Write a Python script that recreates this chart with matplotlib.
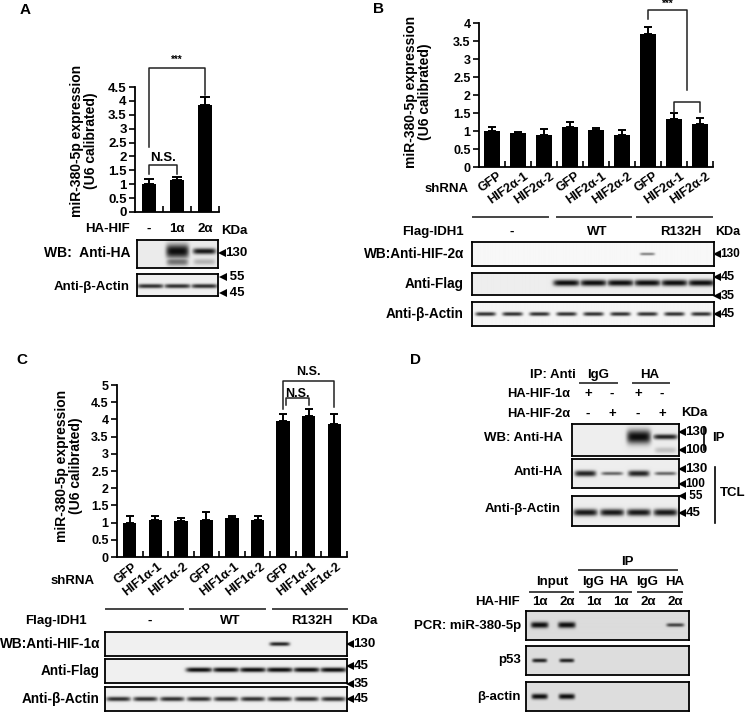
import numpy as np
import matplotlib
matplotlib.use('Agg')
import matplotlib.pyplot as plt
from matplotlib import transforms

plt.rcParams['font.family'] = ['Liberation Sans', 'DejaVu Sans']
plt.rcParams['font.weight'] = 'bold'

# ---- data ----
a_lanes = ['-', '1α', '2α']
a_vals = [1.0, 1.15, 3.85]
a_err = [0.2, 0.1, 0.3]

b_shrna = ['GFP', 'HIF2α-1', 'HIF2α-2'] * 3
b_vals = [1.0, 0.95, 0.9, 1.12, 1.02, 0.9, 3.7, 1.33, 1.2]
b_err = [0.12, 0.02, 0.15, 0.12, 0.07, 0.12, 0.18, 0.18, 0.15]

c_shrna = ['GFP', 'HIF1α-1', 'HIF1α-2'] * 3
c_vals = [1.0, 1.08, 1.05, 1.08, 1.12, 1.08, 3.95, 4.1, 3.87]
c_err = [0.2, 0.12, 0.07, 0.22, 0.08, 0.12, 0.2, 0.2, 0.28]

idh1 = ['-', 'WT', 'R132H']
d_ip = ['IgG', 'HA']
d_hif1 = ['+', '-', '+', '-']
d_hif2 = ['-', '+', '-', '+']
pcr_groups = ['Input', 'IgG', 'HA', 'IgG', 'HA']
pcr_lanes = ['1α', '2α', '1α', '1α', '2α', '2α']

# band intensities per lane (0 = no band)
a_ha = [0.0, 1.0, 0.95]
a_actin = [0.85, 0.85, 0.85]
b_hif2 = [0, 0, 0, 0, 0, 0, 0.5, 0, 0]
b_flag = [0, 0, 0, 1, 1, 1, 1, 1, 1]
b_actin = [0.85] * 9
c_hif1 = [0, 0, 0, 0, 0, 0, 0.9, 0, 0]
c_flag = [0, 0, 0, 1, 1, 1, 1, 1, 1]
c_actin = [0.85] * 9
d_wb_ip = [0, 0, 1.0, 0.9]
d_wb_tcl = [0.9, 0.6, 0.9, 0.6]
d_actin = [0.95] * 4
p_mir = [1, 1, 0, 0, 0, 0.75]
p_p53 = [0.9, 0.9, 0, 0, 0, 0]
p_actin = [1, 1, 0, 0, 0, 0]

W, H = 745, 712
fig = plt.figure(figsize=(W / 100, H / 100), dpi=100)
fig.patch.set_facecolor('white')

ov = fig.add_axes([0, 0, 1, 1])
ov.set_xlim(0, W)
ov.set_ylim(H, 0)
ov.axis('off')

FS = 9.5  # label size for blot rows


def px_axes(x0, y0, x1, y1):
    return fig.add_axes([x0 / W, 1 - y1 / H, (x1 - x0) / W, (y1 - y0) / H])


def t(x, y, s, ha='center', size=FS, **kw):
    ov.text(x, y, s, ha=ha, va='center', fontsize=size, fontweight='bold', **kw)


def kda(x, y, s, size=9):
    # small left-pointing arrowhead followed by marker size
    ov.plot(x + 3.5, y, marker='<', ms=6, color='black', mew=0)
    t(x + 7.5, y, s, ha='left', size=size)


def hline(x0, x1, y, lw=1.4):
    ov.plot([x0, x1], [y, y], color='#444444', lw=lw)


def vline(x, y0, y1, lw=1.2):
    ov.plot([x, x], [y0, y1], color='black', lw=lw)


def blot(box, bands, bg=0.93):
    x0, y0, x1, y1 = box
    ax = px_axes(x0, y0, x1, y1)
    n = len(bands[0][0])
    hh = y1 - y0
    xx = np.linspace(0, n, int((x1 - x0) * 4))
    yy = np.linspace(0, hh, int(hh * 4))
    X, Y = np.meshgrid(xx, yy)
    dark = np.zeros_like(X)
    for levels, yf, thick, fill in bands:
        thick = np.broadcast_to(thick, (n,))
        for i, lv in enumerate(levels):
            if lv <= 0:
                continue
            gx = np.exp(-np.abs((X - (i + 0.5)) / (fill / 2)) ** 6)
            gy = np.exp(-np.abs((Y - yf * hh) / thick[i]) ** 2.2)
            dark = np.maximum(dark, lv * gx * gy)
    img = bg - (bg - 0.05) * dark
    ax.imshow(img, cmap='gray', vmin=0, vmax=1, aspect='auto',
              extent=(0, n, hh, 0), interpolation='bilinear')
    ax.set_xticks([])
    ax.set_yticks([])
    for s in ax.spines.values():
        s.set_linewidth(1.3)
    return ax


def bar_panel(box, vals, err, ymax, width, fs, cap):
    x0, ytop, x1, ybot = box
    ax = px_axes(x0, ytop, x1, ybot)
    n = len(vals)
    x = np.arange(n)
    ax.bar(x, vals, width=width, color='black')
    ax.errorbar(x, vals, yerr=[np.zeros(n), err], fmt='none', ecolor='black',
                elinewidth=1.4, capsize=cap, capthick=1.4)
    ax.set_xlim(-0.5, n - 0.5)
    ax.set_ylim(0, ymax)
    ticks = np.arange(0, ymax + 0.01, 0.5)
    ax.set_yticks(ticks)
    ax.set_yticklabels([f'{v:g}' for v in ticks], fontsize=fs, fontweight='bold')
    ax.set_xticks(np.arange(1, n + 1) - 0.5)
    ax.set_xticklabels([])
    ax.tick_params(axis='x', direction='in', length=4, width=1.2)
    ax.tick_params(axis='y', direction='out', length=4, width=1.2, pad=2)
    for s in ['top', 'right']:
        ax.spines[s].set_visible(False)
    for s in ['left', 'bottom']:
        ax.spines[s].set_linewidth(1.3)
    ax.patch.set_alpha(0)
    return ax


def bracket(ax, xa, xb, ytop, ya, yb, lw=1.1):
    ax.plot([xa, xa, xb, xb], [ya, ytop, ytop, yb], color='#222222', lw=lw, clip_on=False)


ylab = 'miR-380-5p expression\n(U6 calibrated)'

# ---------------- Panel A ----------------
t(20, 10, 'A', ha='left', size=11)
axA = bar_panel((135, 87, 219, 212), a_vals, a_err, 4.5, 0.47, 9.5, 3.5)
t(84, 141, ylab, size=10, rotation=90, linespacing=1.0)
bracket(axA, 0, 2, 5.2, 2.35, 4.2)
axA.text(1, 5.3, '***', ha='center', va='bottom', fontsize=7, clip_on=False)
bracket(axA, 0, 1, 1.68, 1.35, 1.35)
axA.text(0.5, 1.72, 'N.S.', ha='center', va='bottom', fontsize=9.5, clip_on=False)
trA = transforms.blended_transform_factory(axA.transData, ov.transData)
t(107, 229, 'HA-HIF', size=9.5)
for i, s in enumerate(a_lanes):
    axA.text(i, 229, s, transform=trA, ha='center', va='center', fontsize=9.5)
t(234, 231, 'KDa', size=9.5)
blot((137, 240, 218, 268), [(a_ha, 0.4, [0, 7, 3], 0.85),
                            ([0, 0.55, 0.25], 0.78, [0, 4, 3], 0.8)], bg=0.92)
t(130, 253, 'WB:  Anti-HA', ha='right', size=10)
kda(218, 253, '130', size=9.5)
blot((137, 274, 218, 296), [(a_actin, 0.55, 2.2, 0.98)], bg=0.94)
t(130, 287, 'Anti-β-Actin', ha='right', size=9.5)
kda(219, 277, ' 55', size=9.5)
kda(219, 293, ' 45', size=9.5)

# ---------------- Panel B ----------------
t(373, 9, 'B', ha='left', size=11)
axB = bar_panel((479, 23, 713, 167), b_vals, b_err, 4.0, 0.58, 9, 3)
t(418, 92, ylab, size=10, rotation=90, linespacing=1.0)
bracket(axB, 6, 7.5, 4.36, 4.12, 2.15)
axB.text(6.75, 4.4, '***', ha='center', va='bottom', fontsize=7, clip_on=False)
bracket(axB, 7, 8, 1.81, 1.53, 1.53)
trB = transforms.blended_transform_factory(axB.transData, ov.transData)
for i, s in enumerate(b_shrna):
    axB.text(i + 0.2, 170, s, transform=trB, ha='right', va='top', rotation=35,
             rotation_mode='anchor', fontsize=9)
t(447, 189, 'shRNA', size=9.5)
for xa, xb in [(473, 548), (557, 631), (637, 712)]:
    hline(xa, xb, 217)
t(464, 232, 'Flag-IDH1', ha='right', size=9.5)
for xc, s in zip([512, 597, 681], idh1):
    t(xc, 232, s, size=9.5)
t(728, 232, 'KDa', size=9)
blot((472, 242, 714, 266), [(b_hif2, 0.5, 1.4, 0.55)], bg=0.97)
t(464, 254, 'WB:Anti-HIF-2α', ha='right', size=9.8)
kda(713, 254, '130', size=8.5)
blot((472, 273, 714, 295), [(b_flag, 0.45, 3.2, 0.98)], bg=0.93)
t(464, 284, 'Anti-Flag', ha='right', size=9.8)
kda(713, 277, '45', size=9)
kda(713, 296, '35', size=9)
blot((472, 302, 714, 326), [(b_actin, 0.5, 2.0, 0.75)], bg=0.96)
t(464, 314, 'Anti-β-Actin', ha='right', size=9.8)
kda(713, 314, '45', size=9)

# ---------------- Panel C ----------------
t(16, 360, 'C', ha='left', size=11)
axC = bar_panel((117, 385, 347, 557), c_vals, c_err, 5.0, 0.52, 9, 3)
t(69, 466, ylab, size=10, rotation=90, linespacing=1.0)
bracket(axC, 6, 8, 5.12, 4.3, 4.35)
axC.text(7, 5.2, 'N.S.', ha='center', va='bottom', fontsize=9, clip_on=False)
bracket(axC, 6.1, 7, 4.62, 4.42, 4.42)
axC.text(6.55, 4.55, 'N.S.', ha='center', va='bottom', fontsize=9, clip_on=False)
trC = transforms.blended_transform_factory(axC.transData, ov.transData)
for i, s in enumerate(c_shrna):
    axC.text(i + 0.08, 561, s, transform=trC, ha='right', va='top', rotation=38,
             rotation_mode='anchor', fontsize=9)
t(73, 581, 'shRNA', size=9.5)
for xa, xb in [(106, 183), (190, 265), (273, 347)]:
    hline(xa, xb, 609)
t(87, 621, 'Flag-IDH1', ha='right', size=9.5)
for xc, s in zip([150, 230, 312], idh1):
    t(xc, 621, s, size=9.5)
t(364, 621, 'KDa', size=9.5)
blot((105, 632, 347, 656), [(c_hif1, 0.5, 2.0, 0.75)], bg=0.94)
t(100, 644, 'WB:Anti-HIF-1α', ha='right', size=9.8)
kda(346, 644, '130', size=9.5)
blot((105, 659, 347, 683), [(c_flag, 0.45, 2.4, 0.98)], bg=0.94)
t(100, 671, 'Anti-Flag', ha='right', size=9.8)
kda(346, 666, '45', size=9.5)
kda(346, 684, '35', size=9.5)
blot((105, 687, 347, 711), [(c_actin, 0.5, 2.3, 0.9)], bg=0.94)
t(100, 699, 'Anti-β-Actin', ha='right', size=9.8)
kda(346, 699, '45', size=9.5)

# ---------------- Panel D (upper) ----------------
t(410, 360, 'D', ha='left', size=11)
t(576, 375, 'IP: Anti', ha='right', size=9.5)
for xc, s in zip([598, 650], d_ip):
    t(xc, 375, s, size=9.5)
hline(580, 617, 383)
hline(633, 669, 383)
t(570, 394, 'HA-HIF-1α', ha='right', size=9.3)
t(570, 414, 'HA-HIF-2α', ha='right', size=9.3)
for xc, s1, s2 in zip([588, 612, 638, 662], d_hif1, d_hif2):
    t(xc, 394, s1, size=9.5)
    t(xc, 414, s2, size=9.5)
t(694, 413, 'KDa', size=9.5)
blot((572, 424, 679, 456), [(d_wb_ip, 0.4, [0, 0, 7, 2.6], 0.9),
                            ([0, 0, 0, 0.2], 0.82, 3, 0.8)], bg=0.93)
t(563, 438, 'WB: Anti-HA', ha='right', size=9.5)
kda(678, 432, '130', size=9.5)
kda(678, 450, '100', size=9.5)
vline(704, 427, 450)
t(712, 438, 'IP', ha='left', size=9.5)
blot((572, 459, 679, 488), [(d_wb_tcl, 0.5, [3, 1.8, 3, 1.8], 0.8)], bg=0.93)
t(563, 472, 'Anti-HA', ha='right', size=9.5)
kda(678, 469, '130', size=9.5)
kda(678, 484, '100', size=8.5)
kda(678, 496, ' 55', size=8.5)
blot((572, 496, 679, 526), [(d_actin, 0.55, 3.5, 0.9)], bg=0.93)
t(561, 509, 'Anti-β-Actin', ha='right', size=9.5)
kda(678, 513, '45', size=9.5)
vline(715, 467, 523)
t(720, 493, 'TCL', ha='left', size=9.5)

# ---------------- Panel D (PCR) ----------------
t(627, 562, 'IP', size=9.5)
hline(579, 677, 570)
for xc, s in zip([552, 593, 619, 647, 675], pcr_groups):
    t(xc, 582, s, size=9.5)
for xa, xb in [(530, 573), (580, 631), (638, 682)]:
    hline(xa, xb, 592)
t(520, 602, 'HA-HIF', ha='right', size=9.5)
pcr_box = (526, 689)
lane_w = (pcr_box[1] - pcr_box[0]) / len(pcr_lanes)
for i, s in enumerate(pcr_lanes):
    t(pcr_box[0] + (i + 0.5) * lane_w, 602, s, size=9.5)
blot((526, 611, 689, 640), [(p_mir, 0.5, [3, 3, 0, 0, 0, 1.8], 0.65)], bg=0.86)
t(521, 626, 'PCR: miR-380-5p', ha='right', size=9.5)
blot((526, 646, 689, 675), [(p_p53, 0.5, 2.0, 0.55)], bg=0.87)
t(521, 660, 'p53', ha='right', size=9.5)
blot((526, 682, 689, 711), [(p_actin, 0.5, 2.8, 0.6)], bg=0.87)
t(521, 697, 'β-actin', ha='right', size=9.5)

fig.savefig('out.png', dpi=100)
